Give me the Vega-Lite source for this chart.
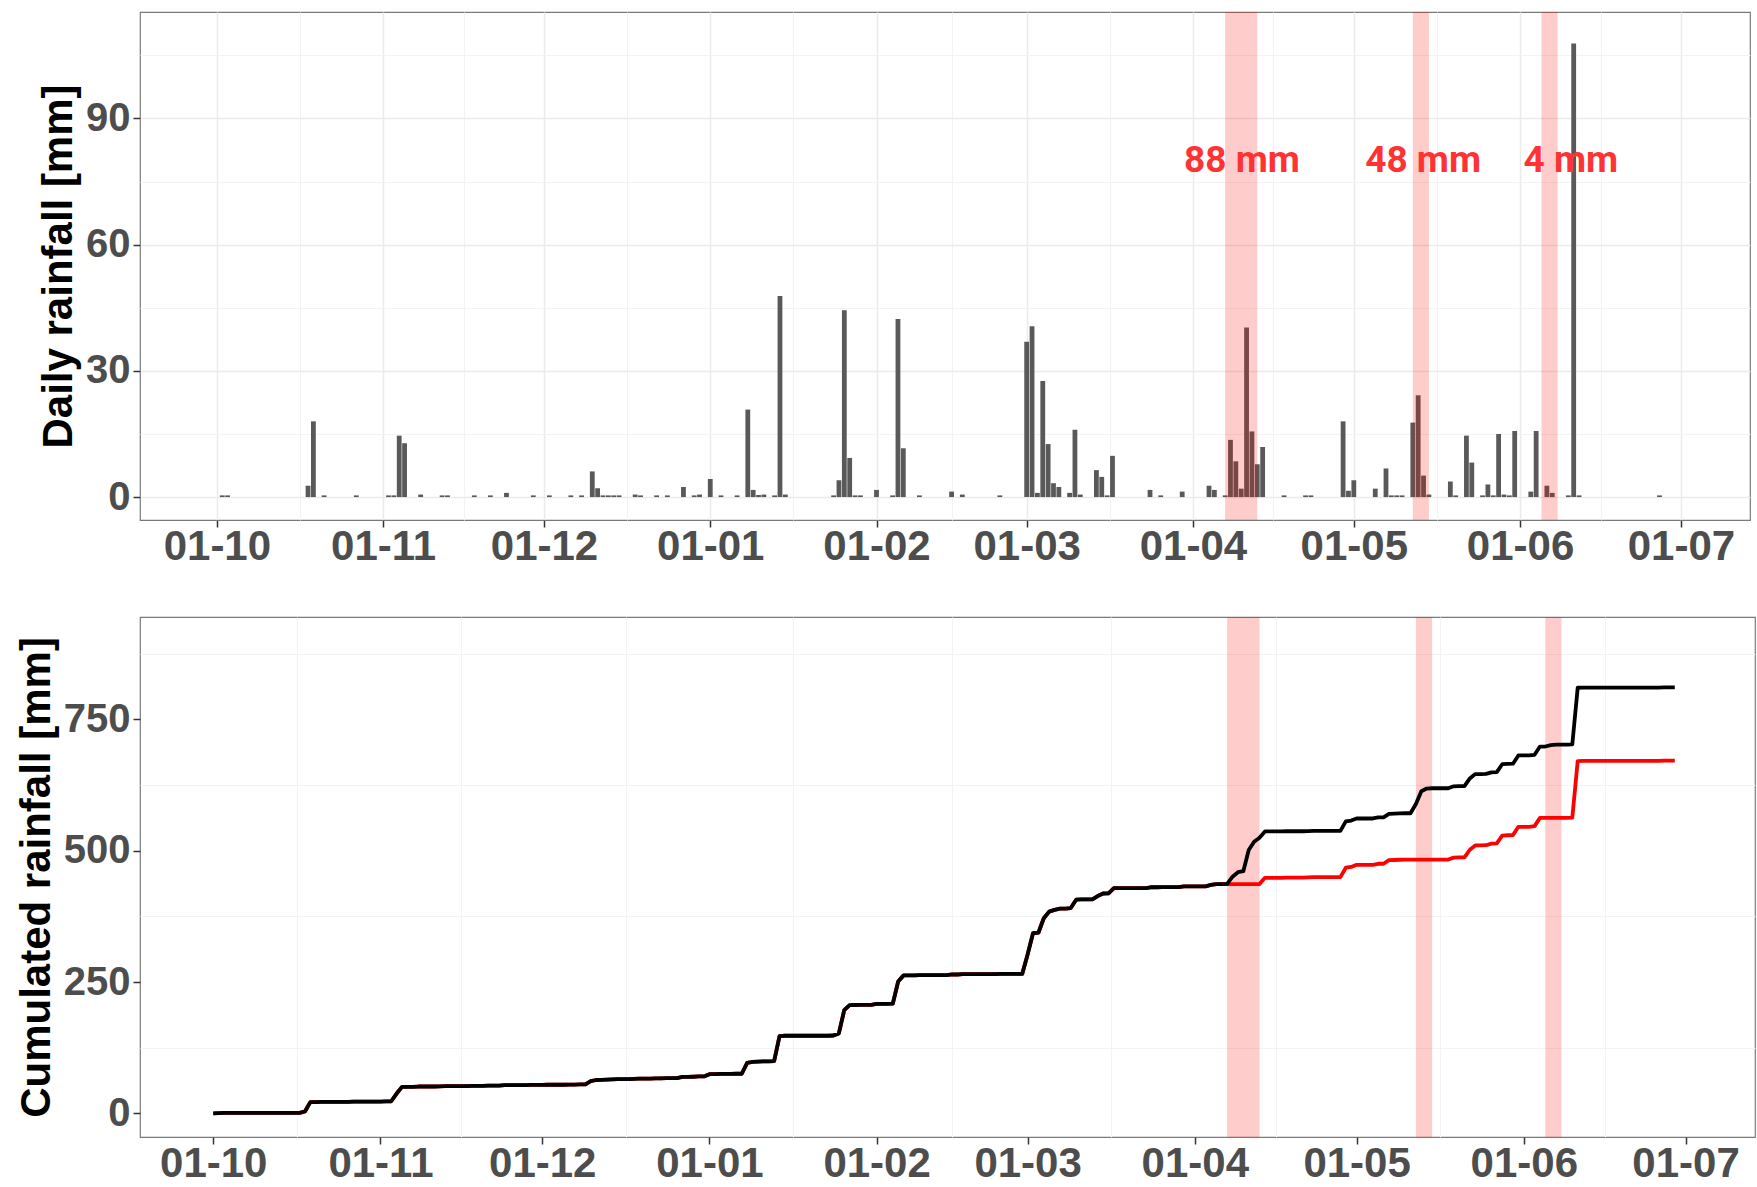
{
  "$schema": "https://vega.github.io/schema/vega-lite/v6.json",
  "background": "white",
  "padding": {"left": 14, "top": 11, "right": 0, "bottom": 0},
  "spacing": 48,
  "datasets": {
    "rain": [
      {"date":"2018-10-02","rain":0.4},{"date":"2018-10-03","rain":0.4},{"date":"2018-10-18","rain":2.7},{"date":"2018-10-19","rain":18.0},
      {"date":"2018-10-21","rain":0.4},{"date":"2018-10-27","rain":0.4},{"date":"2018-11-02","rain":0.4},{"date":"2018-11-03","rain":0.4},
      {"date":"2018-11-04","rain":14.6},{"date":"2018-11-05","rain":12.8},{"date":"2018-11-08","rain":0.6},{"date":"2018-11-12","rain":0.4},
      {"date":"2018-11-13","rain":0.4},{"date":"2018-11-18","rain":0.4},{"date":"2018-11-21","rain":0.4},{"date":"2018-11-24","rain":1.0},
      {"date":"2018-11-29","rain":0.4},{"date":"2018-12-02","rain":0.4},{"date":"2018-12-06","rain":0.4},{"date":"2018-12-08","rain":0.4},
      {"date":"2018-12-10","rain":6.1},{"date":"2018-12-11","rain":2.1},{"date":"2018-12-12","rain":0.4},{"date":"2018-12-13","rain":0.4},
      {"date":"2018-12-14","rain":0.4},{"date":"2018-12-15","rain":0.4},{"date":"2018-12-18","rain":0.6},{"date":"2018-12-19","rain":0.4},
      {"date":"2018-12-22","rain":0.4},{"date":"2018-12-24","rain":0.4},{"date":"2018-12-27","rain":2.4},{"date":"2018-12-29","rain":0.4},
      {"date":"2018-12-30","rain":0.6},{"date":"2019-01-01","rain":4.3},{"date":"2019-01-03","rain":0.4},{"date":"2019-01-06","rain":0.4},
      {"date":"2019-01-08","rain":20.8},{"date":"2019-01-09","rain":1.7},{"date":"2019-01-10","rain":0.5},{"date":"2019-01-11","rain":0.6},
      {"date":"2019-01-13","rain":0.4},{"date":"2019-01-14","rain":47.8},{"date":"2019-01-15","rain":0.6},{"date":"2019-01-24","rain":0.4},
      {"date":"2019-01-25","rain":4.0},{"date":"2019-01-26","rain":44.4},{"date":"2019-01-27","rain":9.3},{"date":"2019-01-28","rain":0.4},
      {"date":"2019-01-29","rain":0.4},{"date":"2019-02-01","rain":1.7},{"date":"2019-02-04","rain":0.4},{"date":"2019-02-05","rain":42.3},
      {"date":"2019-02-06","rain":11.6},{"date":"2019-02-09","rain":0.4},{"date":"2019-02-15","rain":1.3},{"date":"2019-02-17","rain":0.6},
      {"date":"2019-02-24","rain":0.4},{"date":"2019-03-01","rain":36.9},{"date":"2019-03-02","rain":40.6},{"date":"2019-03-03","rain":1.0},
      {"date":"2019-03-04","rain":27.6},{"date":"2019-03-05","rain":12.6},{"date":"2019-03-06","rain":3.3},{"date":"2019-03-07","rain":2.4},
      {"date":"2019-03-09","rain":1.0},{"date":"2019-03-10","rain":16.0},{"date":"2019-03-11","rain":0.6},{"date":"2019-03-14","rain":6.4},
      {"date":"2019-03-15","rain":4.8},{"date":"2019-03-16","rain":0.4},{"date":"2019-03-17","rain":9.8},{"date":"2019-03-24","rain":1.7},
      {"date":"2019-03-26","rain":0.4},{"date":"2019-03-30","rain":1.3},{"date":"2019-04-04","rain":2.7},{"date":"2019-04-05","rain":1.7},
      {"date":"2019-04-07","rain":0.4},{"date":"2019-04-08","rain":13.6},{"date":"2019-04-09","rain":8.5},{"date":"2019-04-10","rain":2.0},
      {"date":"2019-04-11","rain":40.3},{"date":"2019-04-12","rain":15.6},{"date":"2019-04-13","rain":7.8},{"date":"2019-04-14","rain":11.9},
      {"date":"2019-04-18","rain":0.4},{"date":"2019-04-22","rain":0.4},{"date":"2019-04-23","rain":0.4},{"date":"2019-04-29","rain":18.0},
      {"date":"2019-04-30","rain":1.5},{"date":"2019-05-01","rain":4.0},{"date":"2019-05-05","rain":2.0},{"date":"2019-05-07","rain":6.8},
      {"date":"2019-05-08","rain":0.4},{"date":"2019-05-09","rain":0.4},{"date":"2019-05-10","rain":0.4},{"date":"2019-05-12","rain":17.7},
      {"date":"2019-05-13","rain":24.2},{"date":"2019-05-14","rain":5.1},{"date":"2019-05-15","rain":0.6},{"date":"2019-05-19","rain":3.7},
      {"date":"2019-05-20","rain":0.4},{"date":"2019-05-22","rain":14.6},{"date":"2019-05-23","rain":8.2},{"date":"2019-05-25","rain":0.4},
      {"date":"2019-05-26","rain":3.0},{"date":"2019-05-27","rain":0.4},{"date":"2019-05-28","rain":15.0},{"date":"2019-05-29","rain":0.6},
      {"date":"2019-05-30","rain":0.4},{"date":"2019-05-31","rain":15.7},{"date":"2019-06-03","rain":1.3},{"date":"2019-06-04","rain":15.7},
      {"date":"2019-06-06","rain":2.7},{"date":"2019-06-07","rain":1.0},{"date":"2019-06-10","rain":0.4},{"date":"2019-06-11","rain":107.8},
      {"date":"2019-06-12","rain":0.4},{"date":"2019-06-27","rain":0.4}
    ],
    "cum": [
      {"date":"2018-10-01T00:00","all":0,"excl":0},{"date":"2018-10-02T00:00","all":0.4,"excl":0.4},{"date":"2018-10-03T00:00","all":0.8,"excl":0.8},
      {"date":"2018-10-17T00:00","all":0.8,"excl":0.8},{"date":"2018-10-18T00:00","all":3.5,"excl":3.5},{"date":"2018-10-19T00:00","all":21.5,"excl":21.5},
      {"date":"2018-10-20T00:00","all":21.5,"excl":21.5},{"date":"2018-10-21T00:00","all":21.9,"excl":21.9},{"date":"2018-10-26T00:00","all":21.9,"excl":21.9},
      {"date":"2018-10-27T00:00","all":22.3,"excl":22.3},{"date":"2018-11-01T00:00","all":22.3,"excl":22.3},{"date":"2018-11-02T00:00","all":22.7,"excl":22.7},
      {"date":"2018-11-03T00:00","all":23.1,"excl":23.1},{"date":"2018-11-04T00:00","all":37.7,"excl":37.7},{"date":"2018-11-05T00:00","all":50.5,"excl":50.5},
      {"date":"2018-11-07T00:00","all":50.5,"excl":50.5},{"date":"2018-11-08T00:00","all":51.1,"excl":51.1},{"date":"2018-11-11T00:00","all":51.1,"excl":51.1},
      {"date":"2018-11-12T00:00","all":51.5,"excl":51.5},{"date":"2018-11-13T00:00","all":51.9,"excl":51.9},{"date":"2018-11-17T00:00","all":51.9,"excl":51.9},
      {"date":"2018-11-18T00:00","all":52.3,"excl":52.3},{"date":"2018-11-20T00:00","all":52.3,"excl":52.3},{"date":"2018-11-21T00:00","all":52.7,"excl":52.7},
      {"date":"2018-11-23T00:00","all":52.7,"excl":52.7},{"date":"2018-11-24T00:00","all":53.7,"excl":53.7},{"date":"2018-11-28T00:00","all":53.7,"excl":53.7},
      {"date":"2018-11-29T00:00","all":54.1,"excl":54.1},{"date":"2018-12-01T00:00","all":54.1,"excl":54.1},{"date":"2018-12-02T00:00","all":54.5,"excl":54.5},
      {"date":"2018-12-05T00:00","all":54.5,"excl":54.5},{"date":"2018-12-06T00:00","all":54.9,"excl":54.9},{"date":"2018-12-07T00:00","all":54.9,"excl":54.9},
      {"date":"2018-12-08T00:00","all":55.3,"excl":55.3},{"date":"2018-12-09T00:00","all":55.3,"excl":55.3},{"date":"2018-12-10T00:00","all":61.4,"excl":61.4},
      {"date":"2018-12-11T00:00","all":63.5,"excl":63.5},{"date":"2018-12-12T00:00","all":63.9,"excl":63.9},{"date":"2018-12-13T00:00","all":64.3,"excl":64.3},
      {"date":"2018-12-14T00:00","all":64.7,"excl":64.7},{"date":"2018-12-15T00:00","all":65.1,"excl":65.1},{"date":"2018-12-17T00:00","all":65.1,"excl":65.1},
      {"date":"2018-12-18T00:00","all":65.7,"excl":65.7},{"date":"2018-12-19T00:00","all":66.1,"excl":66.1},{"date":"2018-12-21T00:00","all":66.1,"excl":66.1},
      {"date":"2018-12-22T00:00","all":66.5,"excl":66.5},{"date":"2018-12-23T00:00","all":66.5,"excl":66.5},{"date":"2018-12-24T00:00","all":66.9,"excl":66.9},
      {"date":"2018-12-26T00:00","all":66.9,"excl":66.9},{"date":"2018-12-27T00:00","all":69.3,"excl":69.3},{"date":"2018-12-28T00:00","all":69.3,"excl":69.3},
      {"date":"2018-12-29T00:00","all":69.7,"excl":69.7},{"date":"2018-12-30T00:00","all":70.3,"excl":70.3},{"date":"2018-12-31T00:00","all":70.3,"excl":70.3},
      {"date":"2019-01-01T00:00","all":74.6,"excl":74.6},{"date":"2019-01-02T00:00","all":74.6,"excl":74.6},{"date":"2019-01-03T00:00","all":75.0,"excl":75.0},
      {"date":"2019-01-05T00:00","all":75.0,"excl":75.0},{"date":"2019-01-06T00:00","all":75.4,"excl":75.4},{"date":"2019-01-07T00:00","all":75.4,"excl":75.4},
      {"date":"2019-01-08T00:00","all":96.2,"excl":96.2},{"date":"2019-01-09T00:00","all":97.9,"excl":97.9},{"date":"2019-01-10T00:00","all":98.4,"excl":98.4},
      {"date":"2019-01-11T00:00","all":99.0,"excl":99.0},{"date":"2019-01-12T00:00","all":99.0,"excl":99.0},{"date":"2019-01-13T00:00","all":99.4,"excl":99.4},
      {"date":"2019-01-14T00:00","all":147.2,"excl":147.2},{"date":"2019-01-15T00:00","all":147.8,"excl":147.8},{"date":"2019-01-23T00:00","all":147.8,"excl":147.8},
      {"date":"2019-01-24T00:00","all":148.2,"excl":148.2},{"date":"2019-01-25T00:00","all":152.2,"excl":152.2},{"date":"2019-01-26T00:00","all":196.6,"excl":196.6},
      {"date":"2019-01-27T00:00","all":205.9,"excl":205.9},{"date":"2019-01-28T00:00","all":206.3,"excl":206.3},{"date":"2019-01-29T00:00","all":206.7,"excl":206.7},
      {"date":"2019-01-31T00:00","all":206.7,"excl":206.7},{"date":"2019-02-01T00:00","all":208.4,"excl":208.4},{"date":"2019-02-03T00:00","all":208.4,"excl":208.4},
      {"date":"2019-02-04T00:00","all":208.8,"excl":208.8},{"date":"2019-02-05T00:00","all":251.1,"excl":251.1},{"date":"2019-02-06T00:00","all":262.7,"excl":262.7},
      {"date":"2019-02-08T00:00","all":262.7,"excl":262.7},{"date":"2019-02-09T00:00","all":263.1,"excl":263.1},{"date":"2019-02-14T00:00","all":263.1,"excl":263.1},
      {"date":"2019-02-15T00:00","all":264.4,"excl":264.4},{"date":"2019-02-16T00:00","all":264.4,"excl":264.4},{"date":"2019-02-17T00:00","all":265.0,"excl":265.0},
      {"date":"2019-02-23T00:00","all":265.0,"excl":265.0},{"date":"2019-02-24T00:00","all":265.4,"excl":265.4},{"date":"2019-02-28T00:00","all":265.4,"excl":265.4},
      {"date":"2019-03-01T00:00","all":302.3,"excl":302.3},{"date":"2019-03-02T00:00","all":342.9,"excl":342.9},{"date":"2019-03-03T00:00","all":343.9,"excl":343.9},
      {"date":"2019-03-04T00:00","all":371.5,"excl":371.5},{"date":"2019-03-05T00:00","all":384.1,"excl":384.1},{"date":"2019-03-06T00:00","all":387.4,"excl":387.4},
      {"date":"2019-03-07T00:00","all":389.8,"excl":389.8},{"date":"2019-03-08T00:00","all":389.8,"excl":389.8},{"date":"2019-03-09T00:00","all":390.8,"excl":390.8},
      {"date":"2019-03-10T00:00","all":406.8,"excl":406.8},{"date":"2019-03-11T00:00","all":407.4,"excl":407.4},{"date":"2019-03-13T00:00","all":407.4,"excl":407.4},
      {"date":"2019-03-14T00:00","all":413.8,"excl":413.8},{"date":"2019-03-15T00:00","all":418.6,"excl":418.6},{"date":"2019-03-16T00:00","all":419.0,"excl":419.0},
      {"date":"2019-03-17T00:00","all":428.8,"excl":428.8},{"date":"2019-03-23T00:00","all":428.8,"excl":428.8},{"date":"2019-03-24T00:00","all":430.5,"excl":430.5},
      {"date":"2019-03-25T00:00","all":430.5,"excl":430.5},{"date":"2019-03-26T00:00","all":430.9,"excl":430.9},{"date":"2019-03-29T00:00","all":430.9,"excl":430.9},
      {"date":"2019-03-30T00:00","all":432.2,"excl":432.2},{"date":"2019-04-03T00:00","all":432.2,"excl":432.2},{"date":"2019-04-04T00:00","all":434.9,"excl":434.9},
      {"date":"2019-04-05T00:00","all":436.6,"excl":436.6},{"date":"2019-04-06T00:00","all":436.6,"excl":436.6},{"date":"2019-04-07T00:00","all":437.0,"excl":436.6},
      {"date":"2019-04-08T00:00","all":450.6,"excl":436.6},{"date":"2019-04-09T00:00","all":459.1,"excl":436.6},{"date":"2019-04-10T00:00","all":461.1,"excl":436.6},
      {"date":"2019-04-11T00:00","all":501.4,"excl":436.6},{"date":"2019-04-12T00:00","all":517.0,"excl":436.6},{"date":"2019-04-13T00:00","all":524.8,"excl":436.6},
      {"date":"2019-04-14T00:00","all":536.7,"excl":448.5},{"date":"2019-04-17T00:00","all":536.7,"excl":448.5},{"date":"2019-04-18T00:00","all":537.1,"excl":448.9},
      {"date":"2019-04-21T00:00","all":537.1,"excl":448.9},{"date":"2019-04-22T00:00","all":537.5,"excl":449.3},{"date":"2019-04-23T00:00","all":537.9,"excl":449.7},
      {"date":"2019-04-28T00:00","all":537.9,"excl":449.7},{"date":"2019-04-29T00:00","all":555.9,"excl":467.7},{"date":"2019-04-30T00:00","all":557.4,"excl":469.2},
      {"date":"2019-05-01T00:00","all":561.4,"excl":473.2},{"date":"2019-05-04T00:00","all":561.4,"excl":473.2},{"date":"2019-05-05T00:00","all":563.4,"excl":475.2},
      {"date":"2019-05-06T00:00","all":563.4,"excl":475.2},{"date":"2019-05-07T00:00","all":570.2,"excl":482.0},{"date":"2019-05-08T00:00","all":570.6,"excl":482.4},
      {"date":"2019-05-09T00:00","all":571.0,"excl":482.8},{"date":"2019-05-10T00:00","all":571.4,"excl":483.2},{"date":"2019-05-11T00:00","all":571.4,"excl":483.2},
      {"date":"2019-05-12T00:00","all":589.1,"excl":483.2},{"date":"2019-05-13T00:00","all":613.3,"excl":483.2},{"date":"2019-05-14T00:00","all":618.4,"excl":483.2},
      {"date":"2019-05-15T00:00","all":619.0,"excl":483.2},{"date":"2019-05-18T00:00","all":619.0,"excl":483.2},{"date":"2019-05-19T00:00","all":622.7,"excl":486.9},
      {"date":"2019-05-20T00:00","all":623.1,"excl":487.3},{"date":"2019-05-21T00:00","all":623.1,"excl":487.3},{"date":"2019-05-22T00:00","all":637.7,"excl":501.9},
      {"date":"2019-05-23T00:00","all":645.9,"excl":510.1},{"date":"2019-05-24T00:00","all":645.9,"excl":510.1},{"date":"2019-05-25T00:00","all":646.3,"excl":510.5},
      {"date":"2019-05-26T00:00","all":649.3,"excl":513.5},{"date":"2019-05-27T00:00","all":649.7,"excl":513.9},{"date":"2019-05-28T00:00","all":664.7,"excl":528.9},
      {"date":"2019-05-29T00:00","all":665.3,"excl":529.5},{"date":"2019-05-30T00:00","all":665.7,"excl":529.9},{"date":"2019-05-31T00:00","all":681.4,"excl":545.6},
      {"date":"2019-06-02T00:00","all":681.4,"excl":545.6},{"date":"2019-06-03T00:00","all":682.7,"excl":546.9},{"date":"2019-06-04T00:00","all":698.4,"excl":562.6},
      {"date":"2019-06-05T00:00","all":698.4,"excl":562.6},{"date":"2019-06-06T00:00","all":701.1,"excl":562.6},{"date":"2019-06-07T00:00","all":702.1,"excl":562.6},
      {"date":"2019-06-09T00:00","all":702.1,"excl":562.6},{"date":"2019-06-10T00:00","all":702.5,"excl":563.0},{"date":"2019-06-11T00:00","all":810.3,"excl":670.8},
      {"date":"2019-06-12T00:00","all":810.7,"excl":671.2},{"date":"2019-06-26T00:00","all":810.7,"excl":671.2},{"date":"2019-06-27T00:00","all":811.1,"excl":671.6},
      {"date":"2019-06-29T00:00","all":811.1,"excl":671.6}
    ],
    "shades": [
      {"start":"2019-04-07T00:00","end":"2019-04-13T00:00"},
      {"start":"2019-05-12T00:00","end":"2019-05-15T00:00"},
      {"start":"2019-06-05T00:00","end":"2019-06-08T00:00"}
    ],
    "labels": [
      {"date":"2019-04-10 03:00","y":80,"label":"88 mm"},
      {"date":"2019-05-13 22:00","y":80,"label":"48 mm"},
      {"date":"2019-06-10 11:00","y":80,"label":"4 mm"}
    ]
  },
  "vconcat": [
    {
      "width": 1610,
      "height": 508,
      "layer": [
        {
          "data": {"name": "rain", "format": {"parse": {"date": "date:'%Y-%m-%d'"}}},
          "mark": {"type": "bar", "color": "#595959", "size": 4.8},
          "encoding": {
            "x": {
              "field": "date", "type": "temporal",
              "scale": {"domain": [{"year": 2018, "month": 9, "date": 16, "hours": 16}, {"year": 2019, "month": 7, "date": 13, "hours": 21}], "padding": 0},
              "axis": {
                "title": null, "format": "%d-%m", "labelFlush": false, "labelOverlap": false,
                "values": [
                  {"year": 2018, "month": 10, "date": 1}, {"year": 2018, "month": 11, "date": 1}, {"year": 2018, "month": 12, "date": 1},
                  {"year": 2019, "month": 1, "date": 1}, {"year": 2019, "month": 2, "date": 1}, {"year": 2019, "month": 3, "date": 1},
                  {"year": 2019, "month": 4, "date": 1}, {"year": 2019, "month": 5, "date": 1}, {"year": 2019, "month": 6, "date": 1},
                  {"year": 2019, "month": 7, "date": 1}
                ]
              }
            },
            "y": {
              "field": "rain", "type": "quantitative",
              "scale": {"domain": [-5.45, 115.3], "nice": false, "zero": false},
              "axis": {"title": "Daily rainfall [mm]", "values": [0, 30, 60, 90]}
            }
          }
        },
        {
          "data": {"name": "shades"},
          "mark": {"type": "rect", "color": "red", "opacity": 0.2},
          "encoding": {
            "x": {
              "field": "start", "type": "temporal",
              "axis": {
                "orient": "top", "title": null, "labels": false, "ticks": false, "domain": false,
                "grid": true, "gridColor": "#F3F3F3", "gridWidth": 1,
                "values": [
                  {"year": 2018, "month": 10, "date": 16, "hours": 12}, {"year": 2018, "month": 11, "date": 16}, {"year": 2018, "month": 12, "date": 16, "hours": 12},
                  {"year": 2019, "month": 1, "date": 16, "hours": 12}, {"year": 2019, "month": 2, "date": 15}, {"year": 2019, "month": 3, "date": 16, "hours": 12},
                  {"year": 2019, "month": 4, "date": 16}, {"year": 2019, "month": 5, "date": 16, "hours": 12}, {"year": 2019, "month": 6, "date": 16}
                ]
              }
            },
            "x2": {"field": "end"}
          }
        },
        {
          "data": {"name": "labels", "format": {"parse": {"date": "date:'%Y-%m-%d %H:%M'"}}},
          "mark": {"type": "text", "font": "Roboto", "fontWeight": "bold", "fontSize": 37, "color": "#FF3333", "baseline": "middle", "align": "center"},
          "encoding": {
            "x": {"field": "date", "type": "temporal", "axis": null},
            "y": {
              "field": "y", "type": "quantitative",
              "axis": {"orient": "right", "title": null, "labels": false, "ticks": false, "domain": false, "grid": true, "gridColor": "#F3F3F3", "gridWidth": 1, "values": [15, 45, 75, 105]}
            },
            "text": {"field": "label"}
          }
        }
      ],
      "resolve": {"axis": {"x": "independent", "y": "independent"}}
    },
    {
      "width": 1615,
      "height": 520,
      "layer": [
        {
          "data": {"name": "shades"},
          "mark": {"type": "rect", "color": "red", "opacity": 0.2},
          "encoding": {
            "x": {
              "field": "start", "type": "temporal",
              "axis": {
                "orient": "top", "title": null, "labels": false, "ticks": false, "domain": false,
                "grid": true, "gridColor": "#F3F3F3", "gridWidth": 1,
                "values": [
                  {"year": 2018, "month": 10, "date": 16, "hours": 12}, {"year": 2018, "month": 11, "date": 16}, {"year": 2018, "month": 12, "date": 16, "hours": 12},
                  {"year": 2019, "month": 1, "date": 16, "hours": 12}, {"year": 2019, "month": 2, "date": 15}, {"year": 2019, "month": 3, "date": 16, "hours": 12},
                  {"year": 2019, "month": 4, "date": 16}, {"year": 2019, "month": 5, "date": 16, "hours": 12}, {"year": 2019, "month": 6, "date": 16}
                ]
              }
            },
            "x2": {"field": "end"}
          }
        },
        {
          "data": {"name": "cum"},
          "mark": {"type": "line", "color": "red", "strokeWidth": 3.8, "strokeJoin": "round"},
          "encoding": {
            "x": {"field": "date", "type": "temporal", "axis": null},
            "y": {
              "field": "excl", "type": "quantitative",
              "axis": {"orient": "right", "title": null, "labels": false, "ticks": false, "domain": false, "grid": true, "gridColor": "#F3F3F3", "gridWidth": 1, "values": [125, 375, 625, 875]}
            }
          }
        },
        {
          "data": {"name": "cum"},
          "mark": {"type": "line", "color": "black", "strokeWidth": 3.8, "strokeJoin": "round"},
          "encoding": {
            "x": {
              "field": "date", "type": "temporal",
              "scale": {"domain": [{"year": 2018, "month": 9, "date": 17, "hours": 10}, {"year": 2019, "month": 7, "date": 13, "hours": 21}], "padding": 0},
              "axis": {
                "title": null, "format": "%d-%m", "labelFlush": false, "labelOverlap": false,
                "values": [
                  {"year": 2018, "month": 10, "date": 1}, {"year": 2018, "month": 11, "date": 1}, {"year": 2018, "month": 12, "date": 1},
                  {"year": 2019, "month": 1, "date": 1}, {"year": 2019, "month": 2, "date": 1}, {"year": 2019, "month": 3, "date": 1},
                  {"year": 2019, "month": 4, "date": 1}, {"year": 2019, "month": 5, "date": 1}, {"year": 2019, "month": 6, "date": 1},
                  {"year": 2019, "month": 7, "date": 1}
                ]
              }
            },
            "y": {
              "field": "all", "type": "quantitative",
              "scale": {"domain": [-45, 945], "nice": false, "zero": false},
              "axis": {"title": "Cumulated rainfall [mm]", "values": [0, 250, 500, 750]}
            }
          }
        }
      ],
      "resolve": {"axis": {"x": "independent", "y": "independent"}}
    }
  ],
  "config": {
    "view": {"stroke": "#7a7a7a", "strokeWidth": 1.2},
    "axis": {
      "labelFont": "Liberation Sans", "labelFontWeight": "bold", "labelFontSize": 40, "labelColor": "#4D4D4D",
      "titleFont": "Liberation Sans", "titleFontWeight": "bold", "titleFontSize": 42, "titleColor": "black",
      "domain": false, "tickColor": "#333333", "tickSize": 7, "tickWidth": 1.5,
      "grid": true, "gridColor": "#EBEBEB", "gridWidth": 1.5
    },
    "axisX": {"labelPadding": -1, "labelFontSize": 42},
    "axisY": {"labelPadding": 3, "titlePadding": 5}
  }
}
